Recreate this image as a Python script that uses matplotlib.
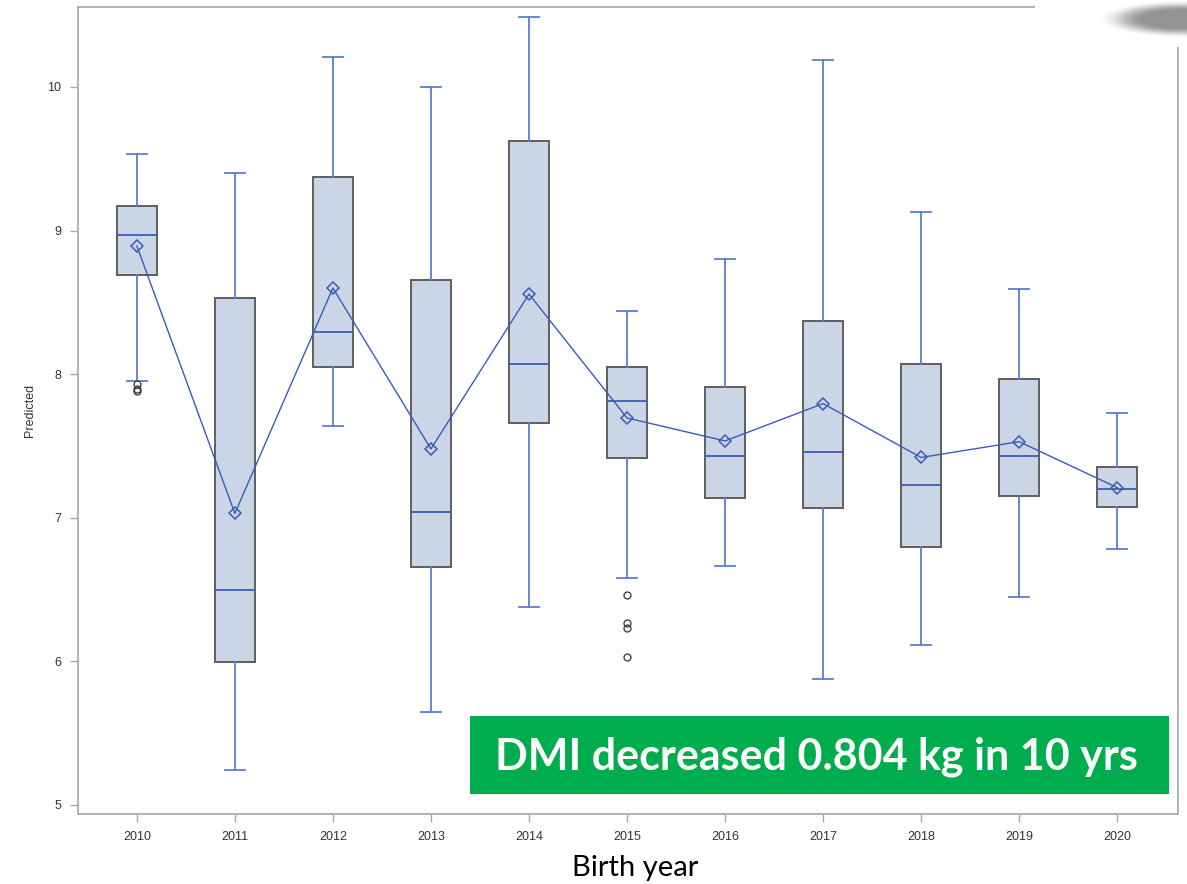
import numpy as np
import matplotlib.pyplot as plt
from matplotlib.patches import Rectangle

# predicted DMI per birth year: box statistics
years = ['2010', '2011', '2012', '2013', '2014', '2015', '2016', '2017', '2018', '2019', '2020']
whis_hi = [9.53, 9.40, 10.21, 10.00, 10.49, 8.44, 8.80, 10.19, 9.13, 8.595, 7.73]
q3 = [9.17, 8.53, 9.37, 8.656, 9.624, 8.05, 7.913, 8.373, 8.073, 7.967, 7.354]
medians = [8.969, 6.50, 8.294, 7.04, 8.071, 7.813, 7.432, 7.458, 7.23, 7.43, 7.20]
q1 = [8.691, 5.996, 8.05, 6.657, 7.66, 7.416, 7.138, 7.068, 6.797, 7.152, 7.075]
whis_lo = [7.953, 5.244, 7.64, 5.648, 6.379, 6.58, 6.664, 5.877, 6.114, 6.448, 6.78]
means = [8.893, 7.03, 8.60, 7.479, 8.558, 7.695, 7.535, 7.795, 7.42, 7.53, 7.21]
outliers = [[7.93, 7.90, 7.88], [], [], [], [], [6.46, 6.27, 6.23, 6.03],
            [], [], [], [], []]

annot = 'DMI decreased 0.804 kg in 10 yrs'

plt.rcParams['font.family'] = ['Liberation Sans', 'DejaVu Sans']

W, H = 1187, 884
fig = plt.figure(figsize=(W / 100, H / 100), dpi=100)
ax = fig.add_axes([78 / W, (H - 814) / H, 1100 / W, 807 / H])

stats = []
for i in range(len(years)):
    stats.append(dict(med=medians[i], q1=q1[i], q3=q3[i], whislo=whis_lo[i],
                      whishi=whis_hi[i], mean=means[i], fliers=outliers[i],
                      label=years[i]))

pos = np.arange(len(years))
whisker_c = '#5b7fcf'
line_c = '#3a5bb8'
ax.bxp(stats, positions=pos, widths=0.41, capwidths=0.2, patch_artist=True,
       showmeans=False,
       boxprops=dict(facecolor='#cad5e5', edgecolor='#5e5e5e', linewidth=1.4),
       whiskerprops=dict(color=whisker_c, linewidth=1.3),
       capprops=dict(color=whisker_c, linewidth=1.3),
       medianprops=dict(color=line_c, linewidth=1.3),
       flierprops=dict(marker='o', markersize=5, markerfacecolor='none',
                       markeredgecolor='#444444', markeredgewidth=1.0))

# mean line with diamond markers
ax.plot(pos, means, color=line_c, linewidth=1.0, marker='D', markersize=6.5,
        markerfacecolor='none', markeredgecolor=line_c, markeredgewidth=1.1,
        zorder=5)

ax.set_xlim(-0.6, 10.62)
ax.set_ylim(4.937, 10.557)
ax.set_yticks([5, 6, 7, 8, 9, 10])
ax.set_xticks(pos)
ax.set_xticklabels(years)
for s in ax.spines.values():
    s.set_color('#a8a8a8')
    s.set_linewidth(1.2)
ax.tick_params(axis='both', direction='out', length=6, width=1.0,
               color='#a8a8a8', labelsize=9, labelcolor='#333333', pad=6)
ax.set_ylabel('Predicted', fontsize=9, color='#333333', labelpad=8)

# bottom caption and green banner
fig.text(635 / W, 1 - 868 / H, 'Birth year', ha='center', va='center',
         fontsize=21, family='Lato', color='black')
fig.patches.append(Rectangle((470 / W, 1 - 794 / H), 699 / W, 78 / H,
                             transform=fig.transFigure, facecolor='#00ad4e',
                             edgecolor='none', zorder=10))
fig.text(816 / W, 1 - 757 / H, annot, ha='center', va='center',
         fontsize=31, family='Lato', fontweight='bold', color='white',
         zorder=11)

# soft grey shape at the top right corner
bx = fig.add_axes([1035 / W, (H - 47) / H, 152 / W, 47 / H])
bx.set_axis_off()
xx, yy = np.meshgrid(np.arange(1035, 1187) + 0.5, np.arange(0, 47) + 0.5)
d = np.sqrt(((xx - 1182) / 62) ** 2 + ((yy - 19) / 14) ** 2)
a = np.clip((1.35 - d) / 0.75, 0, 1)
a = a * a * (3 - 2 * a)
g = 1 - a * 0.42
img = np.dstack([g, g, g])
bx.imshow(img, extent=(0, 1, 0, 1), aspect='auto', interpolation='bilinear')

fig.savefig('out.png', dpi=100)
